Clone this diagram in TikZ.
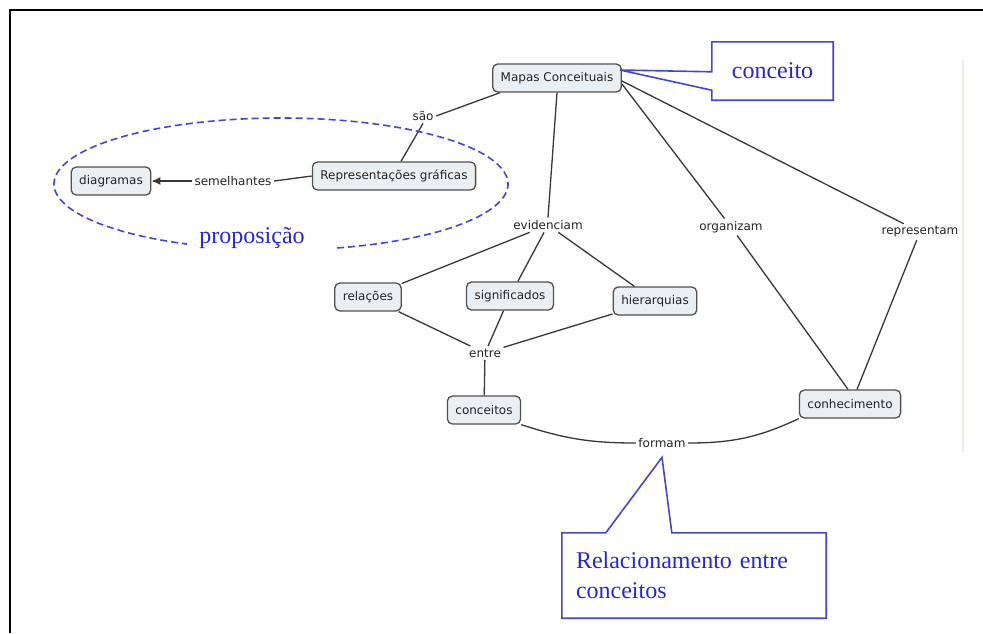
\documentclass[tikz,border=0pt]{standalone}
\usepackage{fontspec}
\setmainfont{DejaVu Sans}
\newfontfamily\calloutfont{Liberation Serif}
\usetikzlibrary{arrows.meta}
\definecolor{boxfill}{RGB}{234,239,243}
\definecolor{boxline}{RGB}{80,80,80}
\definecolor{linkgray}{RGB}{55,55,55}
\definecolor{txtgray}{RGB}{35,35,35}
\definecolor{callblue}{RGB}{70,70,205}
\definecolor{textblue}{RGB}{40,40,200}
\definecolor{faintgreen}{RGB}{226,240,226}
\tikzset{
  concept/.style={draw=boxline, fill=boxfill, rounded corners=5pt, line width=1.3pt,
    inner xsep=8pt, inner ysep=0pt, minimum height=28pt,
    font=\fontsize{12}{14}\selectfont, text=txtgray},
  linklabel/.style={inner sep=2.5pt, font=\fontsize{12}{14}\selectfont, text=txtgray},
  conn/.style={draw=linkgray, line width=1.3pt},
  callout/.style={draw=callblue, line width=1.6pt},
  bluetxt/.style={text=textblue, font=\calloutfont\fontsize{24}{30}\selectfont},
  propline/.style={draw=callblue, line width=1.6pt, dash pattern=on 7pt off 4pt}
}
\begin{document}
\begin{tikzpicture}[x=1pt,y=1pt]
\useasboundingbox (0,0) rectangle (983,-633);
% frame
\draw[line width=2.5pt] (10,-633) -- (10,-10) -- (983,-10);
\draw[faintgreen, line width=1.5pt] (963,-60) -- (963,-452);

% concept nodes
\node[concept] (mapas) at (557,-78) {Mapas Conceituais};
\node[concept] (rep) at (394,-176) {Representações gráficas};
\node[concept] (diag) at (111,-181) {diagramas};
\node[concept] (rel) at (368,-297) {relações};
\node[concept] (sig) at (510,-296) {significados};
\node[concept] (hier) at (655,-301) {hierarquias};
\node[concept] (conc) at (484,-410) {conceitos};
\node[concept] (conh) at (850,-404) {conhecimento};

% linking phrases
\node[linklabel] (sao) at (423,-116) {são};
\node[linklabel] (seme) at (233,-181) {semelhantes};
\node[linklabel] (evid) at (548,-225) {evidenciam};
\node[linklabel] (entre) at (485,-353) {entre};
\node[linklabel] (org) at (731,-227) {organizam};
\node[linklabel] (repr) at (920,-232) {representam};
\node[linklabel] (formam) at (662,-443) {formam};

% connectors
\draw[conn] ([xshift=8pt]mapas.south west) -- (sao.east);
\draw[conn] (sao.south) -- ([xshift=7pt]rep.north);
\draw[conn] (rep.west) -- (seme.east);
\draw[conn, -{Latex[length=9pt,width=8pt]}] (seme.west) -- (diag.east);
\draw[conn] (mapas.south) -- (evid.north);
\draw[conn] (evid) -- (rel);
\draw[conn] (evid) -- (sig);
\draw[conn] (evid) -- (hier);
\draw[conn] (rel) -- (entre);
\draw[conn] (sig) -- (entre);
\draw[conn] (hier) -- (entre);
\draw[conn] (entre) -- (conc);
\draw[conn] (conc.south east) to[out=-18, in=180] (formam.west);
\draw[conn] (formam.east) to[out=0, in=-155] (conh.south west);
\draw[conn] ([yshift=-6pt]mapas.east) -- (org);
\draw[conn] (org) -- ([xshift=-2pt]conh.north);
\draw[conn] ([yshift=-3pt]mapas.east) -- (repr);
\draw[conn] (repr) -- ([xshift=7pt]conh.north);

% proposition ellipse with gap
\draw[propline] (281,-184) ++(284.3:227 and 66) arc[start angle=284.3, end angle=605.5, x radius=227, y radius=66];
\node[bluetxt, inner sep=0pt] (prop) at (252,-238) {proposição};

% callout: conceito
\node[minimum width=121pt, minimum height=58pt, inner sep=0pt, bluetxt] (cbox) at (772.5,-71) {conceito};
\coordinate (ctip) at ([xshift=-2pt,yshift=8pt]mapas.east);
\draw[callout] (cbox.north west) -- (cbox.north east) -- (cbox.south east) -- (cbox.south west)
  -- ([yshift=10pt]cbox.south west) -- (ctip) -- ([yshift=-30pt]cbox.north west) -- cycle;

% callout: relacionamento
\node[minimum width=264pt, minimum height=85pt, inner sep=0pt, text width=236pt, align=left, bluetxt] (rbox) at (694,-575.5) {Relacionamento entre\\conceitos};
\coordinate (rtip) at ([yshift=-7pt]formam.south);
\draw[callout] (rbox.north west) -- ([xshift=44pt]rbox.north west) -- (rtip) -- ([xshift=110pt]rbox.north west)
  -- (rbox.north east) -- (rbox.south east) -- (rbox.south west) -- cycle;
\end{tikzpicture}
\end{document}
